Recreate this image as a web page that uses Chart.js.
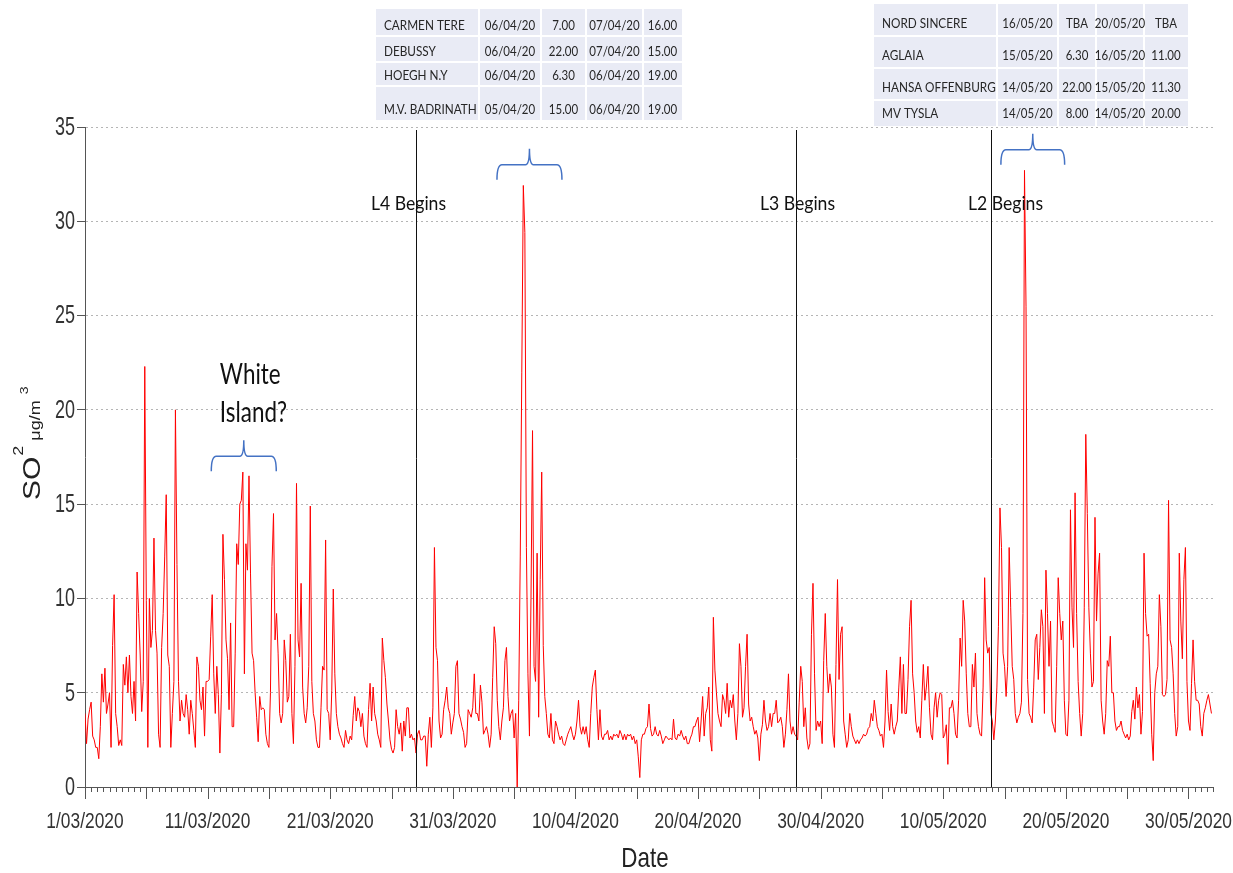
<!DOCTYPE html>
<html>
<head>
<meta charset="utf-8">
<script src="https://cdn.jsdelivr.net/npm/chart.js@4.4.1/dist/chart.umd.min.js"></script>
<style>
  html, body { margin: 0; padding: 0; background: #fff; }
  #wrap { width: 1233px; height: 873px; }
</style>
</head>
<body>
<div id="wrap"><canvas id="myChart" width="1233" height="873"></canvas></div>
<script>
// SO2 (ug/m3), one value every 3 hours, first value = 1/03/2020 00:00
var march1to10 = [
  3.9, 2.3, 3.6, 4.1, 4.5, 2.7, 2.5, 2.1,
  2.1, 1.5, 3.2, 6.0, 4.5, 6.3, 3.9, 4.4,
  5.0, 2.1, 7.5, 10.2, 3.9, 3.2, 2.2, 2.5,
  2.2, 6.5, 5.4, 6.9, 5.0, 7.0, 4.8, 3.9,
  5.6, 3.5, 11.4, 9.2, 7.0, 4.0, 5.6, 22.3,
  9.9, 2.1, 10.0, 7.4, 8.3, 13.2, 8.3, 7.1,
  2.8, 2.1, 7.4, 9.2, 12.2, 15.5, 7.0, 6.4,
  2.1, 3.9, 5.6, 20.0, 11.8, 5.6, 3.5, 4.6,
  3.9, 3.7, 4.9, 4.1, 2.8, 4.6, 3.9, 3.0,
  2.1, 6.9, 6.4, 4.6, 4.1, 5.3, 2.7, 5.6
];
var march11to20 = [
  5.6, 5.7, 8.0, 10.2, 6.0, 3.9, 6.4, 4.9,
  1.8, 4.9, 13.4, 11.0, 7.8, 6.8, 4.1, 8.7,
  3.2, 3.2, 7.1, 12.9, 11.8, 15.0, 15.2, 16.7,
  6.0, 12.9, 11.5, 16.5, 11.3, 7.1, 6.7, 5.0,
  3.7, 2.4, 4.8, 4.1, 4.2, 4.1, 2.8, 2.3,
  2.1, 5.0, 11.7, 14.5, 7.8, 9.2, 7.1, 3.9,
  3.4, 3.9, 7.8, 6.7, 4.5, 4.8, 8.1, 3.9,
  2.3, 6.4, 16.1, 7.8, 6.9, 10.8, 5.3, 3.9,
  3.4, 4.2, 6.4, 14.9, 5.6, 3.9, 3.5, 2.5,
  2.1, 2.1, 4.2, 6.4, 6.2, 13.1, 4.1, 3.9
];
var march21to31 = [
  2.5, 5.1, 10.5, 6.0, 3.9, 3.2, 2.8, 2.6,
  2.3, 2.1, 3.0, 2.5, 2.3, 2.7, 2.5, 3.8,
  4.8, 3.5, 4.2, 4.0, 3.2, 3.9, 2.7, 2.3,
  2.1, 4.1, 5.5, 3.5, 5.3, 3.9, 3.5, 2.8,
  2.5, 2.1, 7.9, 6.7, 5.8, 4.4, 3.5, 2.5,
  2.0, 1.8, 2.1, 4.1, 3.2, 2.8, 3.4, 1.9,
  3.5, 2.7, 4.2, 4.2, 2.6, 2.8, 2.5, 2.6,
  1.8, 2.8, 3.0, 2.5, 2.5, 2.7, 2.7, 1.1,
  2.8, 3.7, 2.1, 4.2, 12.7, 7.4, 6.7, 3.5,
  2.6, 2.8, 4.1, 4.6, 5.3, 4.2, 3.9, 2.8,
  3.4, 3.9, 6.4, 6.7, 3.9, 3.6, 3.2, 2.9
];
var april1to10 = [
  2.1, 2.3, 4.1, 3.9, 3.7, 4.2, 6.0, 3.9,
  3.9, 3.5, 5.4, 4.5, 2.8, 3.0, 3.2, 2.8,
  2.1, 2.8, 5.8, 8.5, 7.6, 4.6, 3.2, 2.5,
  3.5, 4.2, 6.7, 7.4, 4.8, 3.5, 3.9, 4.1,
  2.6, 3.9, 0.0, 4.6, 12.2, 22.0, 31.9, 29.4,
  12.7, 6.0, 2.7, 10.0, 18.9, 6.4, 5.6, 12.4,
  3.7, 11.0, 16.7, 7.5, 4.8, 3.9, 2.8, 2.6,
  3.9, 2.5, 2.3, 3.5, 3.2, 2.8, 2.5, 2.7,
  2.3, 2.2, 2.5, 2.8, 3.0, 3.2, 2.8, 2.5,
  2.8, 3.5, 4.6, 3.2, 2.8, 3.2, 2.8, 3.2
];
var april11to20 = [
  2.5, 2.1, 3.9, 5.3, 5.8, 6.2, 4.1, 2.5,
  4.1, 2.7, 2.5, 2.8, 2.8, 3.0, 2.5, 2.7,
  2.5, 2.8, 2.7, 2.8, 2.6, 3.0, 2.8, 2.5,
  2.8, 2.5, 2.8, 2.7, 2.8, 2.5, 2.7, 2.3,
  2.5, 1.6, 0.5, 2.5, 2.8, 2.8, 3.1, 3.2,
  4.4, 3.1, 2.7, 2.8, 3.2, 2.8, 2.7, 3.0,
  2.7, 2.3, 2.5, 2.7, 2.6, 2.5, 2.6, 2.5,
  3.6, 2.6, 2.5, 2.8, 2.7, 3.0, 2.7, 2.5,
  2.7, 2.3, 2.3, 2.6, 2.8, 3.2, 3.2, 3.5,
  3.7, 2.4, 3.5, 4.8, 2.7, 3.9, 4.2, 5.3
];
var april21to30 = [
  2.5, 1.9, 9.0, 6.2, 5.0, 3.9, 3.5, 3.2,
  4.9, 4.6, 3.9, 5.5, 3.7, 4.6, 4.2, 4.9,
  3.5, 2.5, 3.9, 7.6, 6.4, 3.7, 4.2, 6.4,
  8.1, 4.4, 3.5, 3.7, 3.2, 2.8, 3.0, 2.6,
  1.4, 2.8, 3.3, 4.6, 3.5, 3.0, 3.2, 3.9,
  3.2, 3.9, 3.9, 4.6, 3.4, 3.5, 3.7, 3.2,
  2.1, 2.8, 4.1, 6.0, 3.5, 2.8, 3.2, 2.8,
  2.7, 2.5, 4.5, 6.4, 5.6, 3.2, 4.2, 2.6,
  2.0, 2.3, 8.1, 10.8, 6.0, 3.0, 3.5, 3.2,
  3.5, 2.3, 6.7, 9.2, 6.4, 5.0, 6.0, 5.3
];
var may1to10 = [
  2.8, 2.1, 6.5, 11.0, 5.7, 8.1, 8.5, 3.5,
  2.8, 2.1, 2.5, 3.9, 3.2, 2.7, 2.5, 2.3,
  2.5, 2.3, 2.5, 2.6, 2.8, 2.7, 2.8, 3.1,
  3.2, 3.9, 3.5, 4.6, 3.9, 3.2, 3.0, 2.7,
  2.8, 2.1, 3.5, 6.2, 4.0, 3.0, 4.4, 3.2,
  2.8, 3.2, 3.5, 5.3, 6.9, 3.9, 6.5, 3.9,
  3.9, 5.7, 8.5, 9.9, 6.0, 5.0, 3.5, 2.9,
  3.2, 2.6, 4.6, 6.5, 4.6, 5.3, 6.4, 4.2,
  2.8, 2.5, 4.2, 5.0, 3.7, 4.6, 5.0, 4.9,
  2.6, 2.8, 3.3, 1.2, 4.2, 4.2, 4.6, 3.9
];
var may11to20 = [
  2.8, 2.6, 4.6, 7.9, 6.4, 9.9, 8.8, 6.0,
  3.9, 3.2, 3.2, 6.5, 5.3, 7.1, 3.9, 3.2,
  2.8, 2.7, 5.3, 11.1, 7.8, 7.1, 7.4, 3.9,
  3.5, 2.5, 3.5, 5.3, 8.5, 14.8, 12.7, 7.1,
  6.4, 4.8, 6.4, 12.7, 9.5, 6.4, 5.7, 3.9,
  3.4, 3.7, 3.9, 4.5, 9.2, 32.7, 25.5, 5.7,
  3.9, 3.7, 3.4, 5.3, 7.8, 8.1, 5.7, 7.4,
  9.4, 8.5, 3.9, 11.5, 9.2, 6.4, 8.8, 3.5,
  3.2, 2.9, 6.4, 11.1, 9.2, 7.8, 8.8, 4.6,
  2.8, 2.7, 4.6, 14.7, 9.5, 7.4, 15.6, 9.2
];
var may21to31 = [
  5.6, 3.9, 2.7, 3.9, 9.5, 18.7, 14.5, 9.5,
  7.1, 5.3, 5.6, 14.3, 8.8, 11.3, 12.4, 4.6,
  3.5, 2.8, 3.9, 6.7, 6.4, 8.0, 5.0, 5.0,
  3.5, 3.0, 3.2, 3.2, 3.5, 3.0, 2.8, 2.6,
  2.8, 2.5, 2.7, 4.0, 4.6, 3.6, 5.3, 4.2,
  4.9, 2.8, 4.0, 12.4, 9.2, 8.0, 8.1, 5.5,
  2.8, 1.4, 5.0, 6.0, 6.4, 10.2, 8.5, 4.9,
  4.8, 4.9, 5.7, 15.2, 7.8, 7.4, 6.0, 3.9,
  2.7, 3.2, 12.4, 8.8, 6.8, 11.0, 12.7, 5.6,
  3.5, 3.0, 5.5, 7.8, 5.6, 4.6, 4.6, 4.4,
  3.2, 2.7, 3.9, 4.2, 4.6, 4.9, 4.4, 3.9
];
var samplesPerDay = 8;

var tickLabels = ['1/03/2020', '11/03/2020', '21/03/2020', '31/03/2020', '10/04/2020',
                  '20/04/2020', '30/04/2020', '10/05/2020', '20/05/2020', '30/05/2020'];
var yTickValues = [0, 5, 10, 15, 20, 25, 30, 35];

// lockdown level changes (day number from 1 March)
var eventDays = [27.0, 57.95, 73.9];
var eventLabels = ['L4 Begins', 'L3 Begins', 'L2 Begins'];

// ship tables
var shipsApril = [
  ['CARMEN TERE', '06/04/20', '7.00', '07/04/20', '16.00'],
  ['DEBUSSY', '06/04/20', '22.00', '07/04/20', '15.00'],
  ['HOEGH N.Y', '06/04/20', '6.30', '06/04/20', '19.00'],
  ['M.V. BADRINATH', '05/04/20', '15.00', '06/04/20', '19.00']
];
var shipsMay = [
  ['NORD SINCERE', '16/05/20', 'TBA', '20/05/20', 'TBA'],
  ['AGLAIA', '15/05/20', '6.30', '16/05/20', '11.00'],
  ['HANSA OFFENBURG', '14/05/20', '22.00', '15/05/20', '11.30'],
  ['MV TYSLA', '14/05/20', '8.00', '14/05/20', '20.00']
];

// braces: [start day, end day, level]
var braces = [[10.3, 15.6, 16.75], [33.6, 38.9, 32.2], [74.7, 79.9, 33.0]];

var allValues = march1to10.concat(march11to20, march21to31, april1to10, april11to20,
  april21to30, may1to10, may11to20, may21to31);
var points = allValues.map(function (v, i) { return { x: i / samplesPerDay, y: v }; });

var SANS = '"Liberation Sans", Arial, sans-serif';

// texte com compressao horizontal (a figura original e estreita)
function txt(ctx, s, x, y, font, align, sx, color) {
  ctx.save();
  ctx.translate(x, y);
  ctx.scale(sx, 1);
  ctx.font = font;
  ctx.fillStyle = color || '#222';
  ctx.textAlign = align || 'left';
  ctx.textBaseline = 'middle';
  ctx.fillText(s, 0, 0);
  ctx.restore();
}

function drawBrace(ctx, x1, x2, yb) {
  var xm = (x1 + x2) / 2, yh = yb - 15, yt = yb - 31;
  ctx.beginPath();
  ctx.moveTo(x1, yb);
  ctx.quadraticCurveTo(x1, yh, x1 + 5, yh);
  ctx.lineTo(xm - 4, yh);
  ctx.quadraticCurveTo(xm, yh, xm, yt);
  ctx.quadraticCurveTo(xm, yh, xm + 4, yh);
  ctx.lineTo(x2 - 5, yh);
  ctx.quadraticCurveTo(x2, yh, x2, yb);
  ctx.stroke();
}

function drawTable(ctx, rows, colX, rowY, dy) {
  var left = colX[0], right = colX[colX.length - 1];
  var top = rowY[0], bottom = rowY[rowY.length - 1];
  ctx.fillStyle = '#e9ebf5';
  ctx.fillRect(left, top, right - left, bottom - top);
  ctx.fillStyle = '#ffffff';
  for (var c = 1; c < colX.length - 1; c++) ctx.fillRect(colX[c] - 1, top, 2, bottom - top);
  for (var r = 1; r < rowY.length - 1; r++) ctx.fillRect(left, rowY[r] - 1, right - left, 2);
  rows.forEach(function (row, r) {
    var y = rowY[r + 1] - dy;
    row.forEach(function (cell, c) {
      if (c === 0) txt(ctx, cell, colX[0] + 8, y, '14px Lato', 'left', 0.84, '#262626');
      else txt(ctx, cell, (colX[c] + colX[c + 1]) / 2, y, '14px Lato', 'center', 0.82, '#262626');
    });
  });
}

var decorPlugin = {
  id: 'decor',
  beforeDraw: function (chart) {
    var ctx = chart.ctx;
    ctx.save();
    ctx.fillStyle = '#ffffff';
    ctx.fillRect(0, 0, chart.width, chart.height);
    ctx.restore();
  },
  afterDatasetsDraw: function (chart) {
    var ctx = chart.ctx, xs = chart.scales.x, ys = chart.scales.y, ca = chart.chartArea;
    ctx.save();
    // linhas de mudanca de nivel
    var shifts = [-8, 1, 14];
    eventDays.forEach(function (d, i) {
      var px = Math.round(xs.getPixelForValue(d)) + 0.5;
      ctx.strokeStyle = '#111';
      ctx.lineWidth = 1;
      ctx.beginPath();
      ctx.moveTo(px, ca.top + 3);
      ctx.lineTo(px, ca.bottom);
      ctx.stroke();
      txt(ctx, eventLabels[i], px + shifts[i], ys.getPixelForValue(30.95), '20px Lato', 'center', 0.88, '#111');
    });
    // chaves azuis
    ctx.strokeStyle = '#4472c4';
    ctx.lineWidth = 1.5;
    braces.forEach(function (b) {
      drawBrace(ctx, xs.getPixelForValue(b[0]), xs.getPixelForValue(b[1]), ys.getPixelForValue(b[2]));
    });
    var wx = xs.getPixelForValue(11.0), wy = ys.getPixelForValue(21.85);
    txt(ctx, 'White', wx, wy, '28px Lato', 'left', 0.8, '#111');
    txt(ctx, 'Island?', wx, wy + 38, '28px Lato', 'left', 0.8, '#111');
    ctx.restore();
  },
  afterDraw: function (chart) {
    var ctx = chart.ctx, xs = chart.scales.x, ys = chart.scales.y, ca = chart.chartArea;
    ctx.save();
    // ticks do eixo x (a cada 12 h, maiores a cada 5 dias)
    ctx.strokeStyle = '#555';
    ctx.lineWidth = 1;
    ctx.beginPath();
    for (var t = 0; t <= 92; t += 0.5) {
      var px = Math.round(xs.getPixelForValue(t)) + 0.5;
      var len = (t % 5 === 0) ? 12 : 5;
      ctx.moveTo(px, ca.bottom);
      ctx.lineTo(px, ca.bottom + len);
    }
    ctx.stroke();

    // rotulos dos eixos
    tickLabels.forEach(function (lab, i) {
      txt(ctx, lab, xs.getPixelForValue(i * 10), 822, '22px ' + SANS, 'center', 0.79, '#333');
    });
    yTickValues.forEach(function (v) {
      txt(ctx, String(v), 75, ys.getPixelForValue(v) + 1, '25px ' + SANS, 'right', 0.72, '#333');
    });

    // tabelas
    drawTable(ctx, shipsApril, [376, 479, 541, 586, 643, 682], [9, 36, 62, 86, 120], 11);
    drawTable(ctx, shipsMay, [874, 997, 1058, 1096, 1144, 1188], [4, 36, 68, 100, 126], 13);

    txt(ctx, 'Date', 645, 859, '28px ' + SANS, 'center', 0.8, '#222');

    // titulo do eixo y
    ctx.translate(40, 500);
    ctx.rotate(-Math.PI / 2);
    ctx.scale(1, 0.8);
    ctx.fillStyle = '#222';
    ctx.textBaseline = 'alphabetic';
    ctx.textAlign = 'left';
    ctx.font = '30px ' + SANS;
    ctx.fillText('SO', 0, 0);
    var cur = ctx.measureText('SO').width + 1;
    ctx.font = '18px ' + SANS;
    ctx.fillText('2', cur, -21);
    cur += ctx.measureText('2').width + 5;
    ctx.fillText('\u03bcg/m', cur, 0);
    cur += ctx.measureText('\u03bcg/m').width + 6;
    ctx.font = '14px ' + SANS;
    ctx.fillText('3', cur, -15);
    ctx.restore();
  }
};

const ctx = document.getElementById('myChart').getContext('2d');
var chart = new Chart(ctx, {
  type: 'line',
  data: {
    datasets: [{
      label: 'SO2',
      data: points,
      borderColor: '#ff0000',
      borderWidth: 1,
      pointRadius: 0,
      tension: 0,
      fill: false
    }]
  },
  options: {
    responsive: false,
    animation: false,
    layout: { padding: { left: 0, right: 20, top: 127, bottom: 0 } },
    plugins: { legend: { display: false }, tooltip: { enabled: false } },
    scales: {
      x: {
        type: 'linear',
        min: 0,
        max: 92,
        afterFit: function (s) { s.height = 86; },
        border: { display: true, color: '#555', width: 1 },
        grid: { display: true, drawOnChartArea: false, drawTicks: false },
        ticks: { display: false, stepSize: 10 }
      },
      y: {
        min: 0,
        max: 35,
        afterFit: function (s) { s.width = 85; },
        border: { display: true, color: '#555', width: 1, dash: [2, 3] },
        grid: { color: '#b5b5b5', lineWidth: 1, drawTicks: true, tickLength: 8, tickColor: '#555' },
        ticks: { display: false, stepSize: 5 }
      }
    }
  },
  plugins: [decorPlugin]
});
</script>
</body>
</html>
